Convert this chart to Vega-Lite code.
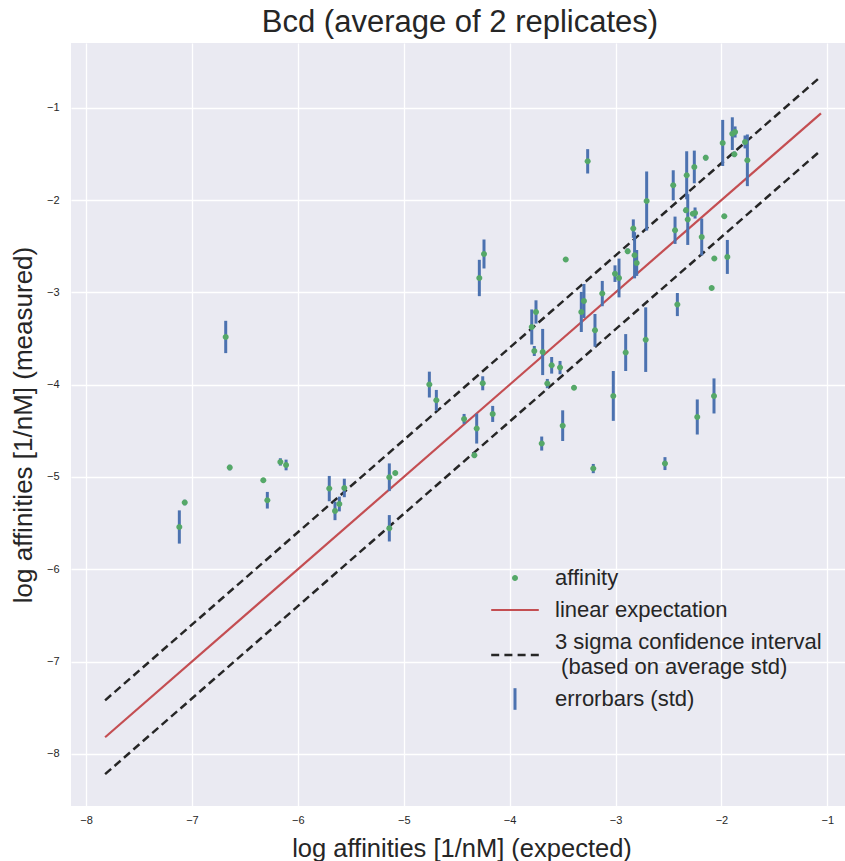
{
  "$schema": "https://vega.github.io/schema/vega-lite/v6.json",
  "width": 774,
  "height": 763,
  "autosize": {"type": "none"},
  "padding": {"left": 71, "top": 43, "right": 0, "bottom": 55},
  "background": "white",
  "title": {"text": "Bcd (average of 2 replicates)", "fontSize": 31, "font": "Liberation Sans", "fontWeight": "normal", "color": "#262626", "offset": 4, "dx": 2, "anchor": "middle"},
  "config": {
    "view": {"fill": "#EAEAF2", "stroke": null},
    "axis": {"grid": true, "gridColor": "white", "gridWidth": 1.3, "domain": false, "ticks": false, "tickSize": 0, "labelFont": "Liberation Sans", "labelFontSize": 11, "labelColor": "#262626", "titleFont": "Liberation Sans", "titleFontSize": 25.5, "titleFontWeight": "normal", "titleColor": "#262626"},
    "style": {"guide-label": {"lineHeight": 25}}
  },
  "data": {"values": [
    {"series": "affinity", "x": -6.681, "y": -3.483, "std": 0.175},
    {"series": "affinity", "x": -6.643, "y": -4.898, "std": 0.03},
    {"series": "affinity", "x": -6.326, "y": -5.036, "std": 0.02},
    {"series": "affinity", "x": -6.288, "y": -5.252, "std": 0.09},
    {"series": "affinity", "x": -6.165, "y": -4.837, "std": 0.04},
    {"series": "affinity", "x": -6.111, "y": -4.870, "std": 0.058},
    {"series": "affinity", "x": -7.119, "y": -5.542, "std": 0.18},
    {"series": "affinity", "x": -7.068, "y": -5.277, "std": 0.03},
    {"series": "affinity", "x": -5.703, "y": -5.126, "std": 0.137},
    {"series": "affinity", "x": -5.649, "y": -5.368, "std": 0.10},
    {"series": "affinity", "x": -5.608, "y": -5.293, "std": 0.08},
    {"series": "affinity", "x": -5.561, "y": -5.119, "std": 0.10},
    {"series": "affinity", "x": -5.136, "y": -5.003, "std": 0.15},
    {"series": "affinity", "x": -5.080, "y": -4.957, "std": 0.02},
    {"series": "affinity", "x": -5.136, "y": -5.556, "std": 0.143},
    {"series": "affinity", "x": -4.242, "y": -2.584, "std": 0.157},
    {"series": "affinity", "x": -4.286, "y": -2.844, "std": 0.197},
    {"series": "affinity", "x": -4.758, "y": -3.999, "std": 0.14},
    {"series": "affinity", "x": -4.692, "y": -4.169, "std": 0.112},
    {"series": "affinity", "x": -4.254, "y": -3.985, "std": 0.076},
    {"series": "affinity", "x": -4.430, "y": -4.371, "std": 0.054},
    {"series": "affinity", "x": -4.311, "y": -4.476, "std": 0.162},
    {"series": "affinity", "x": -4.160, "y": -4.317, "std": 0.087},
    {"series": "affinity", "x": -4.333, "y": -4.765, "std": 0.03},
    {"series": "affinity", "x": -3.697, "y": -4.638, "std": 0.076},
    {"series": "affinity", "x": -3.470, "y": -2.645, "std": 0.02},
    {"series": "affinity", "x": -3.791, "y": -3.375, "std": 0.19},
    {"series": "affinity", "x": -3.751, "y": -3.212, "std": 0.126},
    {"series": "affinity", "x": -3.767, "y": -3.635, "std": 0.054},
    {"series": "affinity", "x": -3.688, "y": -3.646, "std": 0.25},
    {"series": "affinity", "x": -3.603, "y": -3.790, "std": 0.09},
    {"series": "affinity", "x": -3.524, "y": -3.815, "std": 0.072},
    {"series": "affinity", "x": -3.644, "y": -3.988, "std": 0.05},
    {"series": "affinity", "x": -3.392, "y": -4.032, "std": 0.02},
    {"series": "affinity", "x": -3.499, "y": -4.444, "std": 0.166},
    {"series": "affinity", "x": -3.323, "y": -3.212, "std": 0.217},
    {"series": "affinity", "x": -3.298, "y": -3.093, "std": 0.184},
    {"series": "affinity", "x": -3.194, "y": -3.411, "std": 0.177},
    {"series": "affinity", "x": -3.125, "y": -3.013, "std": 0.137},
    {"series": "affinity", "x": -3.005, "y": -2.797, "std": 0.09},
    {"series": "affinity", "x": -2.967, "y": -2.844, "std": 0.21},
    {"series": "affinity", "x": -2.885, "y": -2.555, "std": 0.03},
    {"series": "affinity", "x": -2.904, "y": -3.652, "std": 0.2},
    {"series": "affinity", "x": -3.021, "y": -4.122, "std": 0.27},
    {"series": "affinity", "x": -3.210, "y": -4.909, "std": 0.05},
    {"series": "affinity", "x": -3.263, "y": -1.580, "std": 0.132},
    {"series": "affinity", "x": -2.832, "y": -2.309, "std": 0.1},
    {"series": "affinity", "x": -2.820, "y": -2.598, "std": 0.25},
    {"series": "affinity", "x": -2.800, "y": -2.681, "std": 0.14},
    {"series": "affinity", "x": -2.706, "y": -2.010, "std": 0.32},
    {"series": "affinity", "x": -2.455, "y": -1.840, "std": 0.163},
    {"series": "affinity", "x": -2.438, "y": -2.327, "std": 0.148},
    {"series": "affinity", "x": -2.328, "y": -1.731, "std": 0.26},
    {"series": "affinity", "x": -2.335, "y": -2.110, "std": 0.03},
    {"series": "affinity", "x": -2.318, "y": -2.211, "std": 0.275},
    {"series": "affinity", "x": -2.256, "y": -1.641, "std": 0.177},
    {"series": "affinity", "x": -2.249, "y": -2.140, "std": 0.06},
    {"series": "affinity", "x": -2.270, "y": -2.147, "std": 0.02},
    {"series": "affinity", "x": -2.186, "y": -2.400, "std": 0.2},
    {"series": "affinity", "x": -2.148, "y": -1.540, "std": 0.03},
    {"series": "affinity", "x": -2.067, "y": -2.634, "std": 0.02},
    {"series": "affinity", "x": -2.092, "y": -2.952, "std": 0.02},
    {"series": "affinity", "x": -1.973, "y": -2.176, "std": 0.02},
    {"series": "affinity", "x": -1.944, "y": -2.616, "std": 0.184},
    {"series": "affinity", "x": -1.988, "y": -1.381, "std": 0.25},
    {"series": "affinity", "x": -1.897, "y": -1.280, "std": 0.177},
    {"series": "affinity", "x": -1.871, "y": -1.262, "std": 0.06},
    {"series": "affinity", "x": -1.878, "y": -1.504, "std": 0.03},
    {"series": "affinity", "x": -1.777, "y": -1.370, "std": 0.07},
    {"series": "affinity", "x": -1.755, "y": -1.569, "std": 0.28},
    {"series": "affinity", "x": -2.416, "y": -3.132, "std": 0.125},
    {"series": "affinity", "x": -2.715, "y": -3.512, "std": 0.35},
    {"series": "affinity", "x": -2.533, "y": -4.855, "std": 0.07},
    {"series": "affinity", "x": -2.228, "y": -4.350, "std": 0.19},
    {"series": "affinity", "x": -2.070, "y": -4.122, "std": 0.19}
  ]},
  "encoding": {
    "x": {"field": "x", "type": "quantitative", "scale": {"domain": [-8.142, -0.833], "nice": false, "zero": false},
      "axis": {"title": "log affinities [1/nM] (expected)", "values": [-8, -7, -6, -5, -4, -3, -2, -1], "labelPadding": 8, "titlePadding": 11, "titleX": 390.5}},
    "y": {"field": "y", "type": "quantitative", "scale": {"domain": [-8.565, -0.298], "nice": false, "zero": false},
      "axis": {"title": "log affinities [1/nM] (measured)", "values": [-8, -7, -6, -5, -4, -3, -2, -1], "labelPadding": 12, "titlePadding": 10, "titleFontSize": 26}}
  },
  "layer": [
    {
      "data": {"values": [
        {"line": "expectation", "x": -7.82, "y": -7.82},
        {"line": "expectation", "x": -1.06, "y": -1.06}
      ]},
      "mark": {"type": "line", "color": "#C44E52", "strokeWidth": 2.2},
      "encoding": {}
    },
    {
      "data": {"values": [
        {"line": "upper", "x": -7.82, "y": -7.42},
        {"line": "upper", "x": -1.06, "y": -0.66},
        {"line": "lower", "x": -7.82, "y": -8.22},
        {"line": "lower", "x": -1.06, "y": -1.46}
      ]},
      "mark": {"type": "line", "color": "#262626", "strokeWidth": 2.5, "strokeDash": [8, 4.5]},
      "encoding": {"detail": {"field": "line", "type": "nominal"}}
    },
    {
      "mark": {"type": "errorbar", "color": "#4C72B0", "thickness": 3},
      "encoding": {"yError": {"field": "std"}}
    },
    {
      "mark": {"type": "point", "filled": true, "size": 100, "opacity": 1, "strokeWidth": 0},
      "encoding": {
        "color": {"field": "series", "type": "nominal",
          "scale": {"domain": ["affinity", "linear expectation", "3 sigma confidence interval", "errorbars (std)"], "range": ["#55A868", "#C44E52", "#262626", "#4C72B0"]},
          "legend": {
            "title": null, "orient": "none", "legendX": 433, "legendY": 524, "padding": 0,
            "symbolSize": 100, "rowPadding": 10, "labelOffset": 29, "labelFontSize": 22, "labelFont": "Liberation Sans", "labelColor": "#262626", "labelLimit": 500, "symbolStrokeWidth": 0,
            "labelExpr": "datum.label === '3 sigma confidence interval' ? ['3 sigma confidence interval', '\u200b\u00a0(based on average std)'] : datum.label"
          }
        },
        "shape": {"field": "series", "type": "nominal",
          "scale": {"domain": ["affinity", "linear expectation", "3 sigma confidence interval", "errorbars (std)"],
            "range": [
              "M-0.6,0A0.6,0.6,0,1,1,0.6,0A0.6,0.6,0,1,1,-0.6,0Z",
              "M-4.76,-0.22H4.76V0.22H-4.76Z",
              "M-4.76,2.35H-3.16V2.85H-4.76ZM-2.12,2.35H-0.52V2.85H-2.12ZM0.52,2.35H2.12V2.85H0.52ZM3.16,2.35H4.76V2.85H3.16Z",
              "M-0.3,-2.16H0.3V2.16H-0.3Z"
            ]},
          "legend": {
            "title": null, "orient": "none", "legendX": 433, "legendY": 524, "padding": 0,
            "symbolSize": 100, "rowPadding": 10, "labelOffset": 29, "labelFontSize": 22, "labelFont": "Liberation Sans", "labelColor": "#262626", "labelLimit": 500, "symbolStrokeWidth": 0,
            "labelExpr": "datum.label === '3 sigma confidence interval' ? ['3 sigma confidence interval', '\u200b\u00a0(based on average std)'] : datum.label"
          }
        }
      }
    }
  ]
}
